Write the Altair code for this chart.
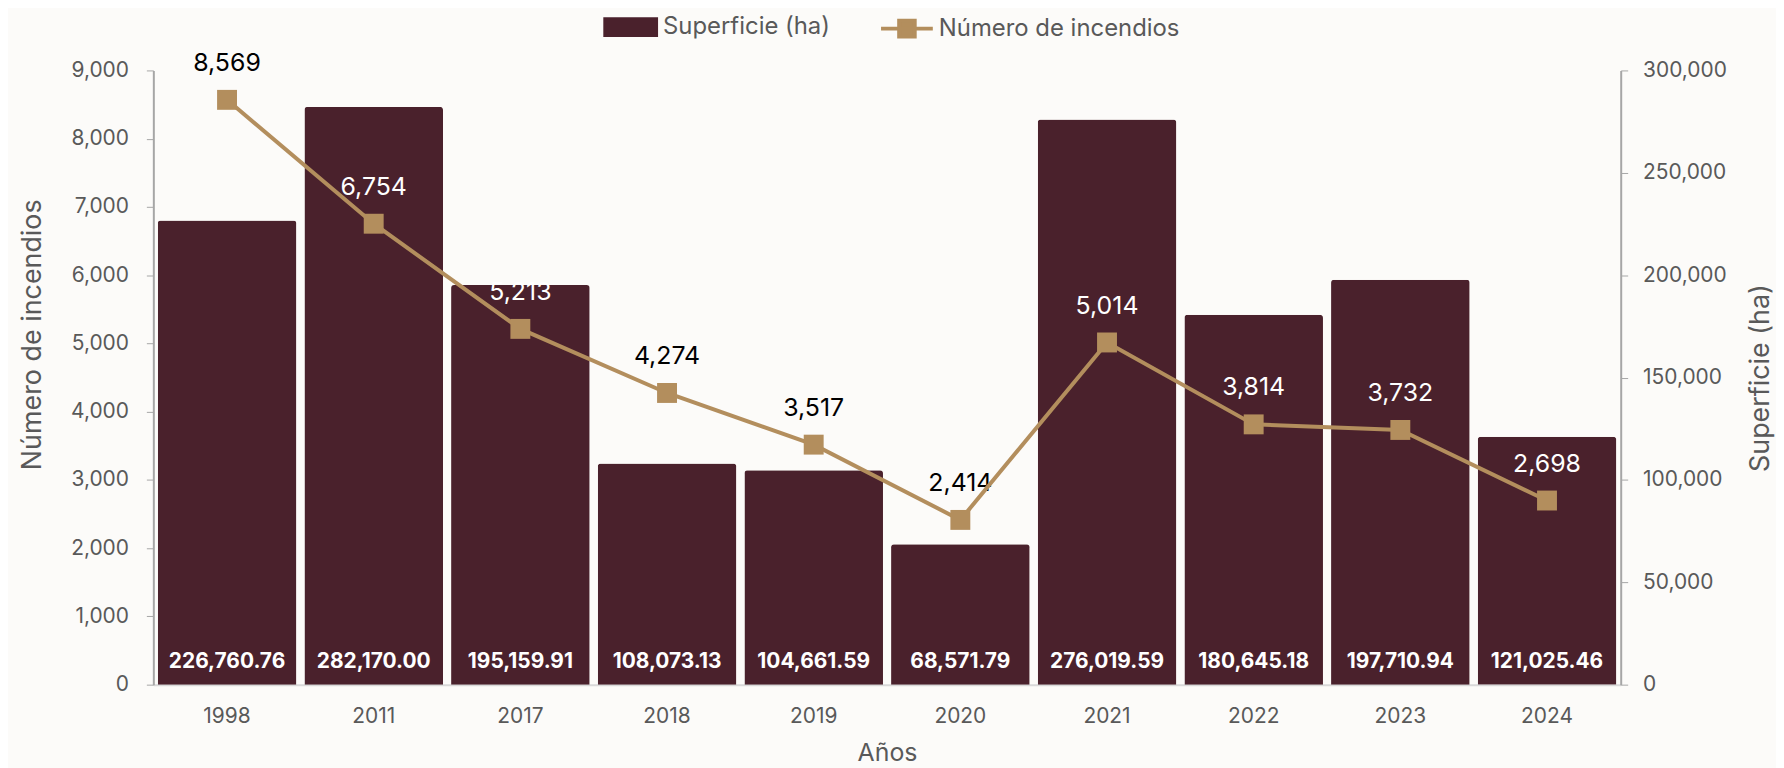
import altair as alt
import pandas as pd

years = ["1998", "2011", "2017", "2018", "2019", "2020", "2021", "2022", "2023", "2024"]
superficie = [226760.76, 282170.00, 195159.91, 108073.13, 104661.59, 68571.79,
              276019.59, 180645.18, 197710.94, 121025.46]
incendios = [8569, 6754, 5213, 4274, 3517, 2414, 5014, 3814, 3732, 2698]
# label colour: dark when the count label sits above the bar, white when inside it
label_on_bar = [False, True, True, False, False, False, True, True, True, True]

BAR = "#4A212C"
GOLD = "#B38E5D"
GRAY = "#595959"
AXIS = "#A6A6A6"
FONT = "Inter"

df = pd.DataFrame({
    "anio": years,
    "superficie": superficie,
    "incendios": incendios,
    "lblcolor": ["white" if b else "black" for b in label_on_bar],
})

x = alt.X("anio:N", sort=years,
          scale=alt.Scale(paddingInner=0.055, paddingOuter=0.03),
          axis=alt.Axis(title="Años", labelAngle=0, ticks=False, labelPadding=21,
                        labelFontSize=21, labelColor=GRAY, labelFont=FONT,
                        titleFontSize=25, titleColor=GRAY, titleFont=FONT,
                        titleFontWeight="normal", titleBaseline="middle", titleY=68,
                        domainColor="#D9D9D9", domainWidth=2))

bars = alt.Chart(df).mark_bar(cornerRadiusTopLeft=3, cornerRadiusTopRight=3).encode(
    x=x,
    y=alt.Y("superficie:Q",
            scale=alt.Scale(domain=[0, 300000], nice=False),
            axis=alt.Axis(orient="right", title="Superficie (ha)", values=list(range(0, 300001, 50000)),
                          format=",d", grid=False, labelFontSize=21, labelColor=GRAY, labelFont=FONT,
                          tickSize=7, tickColor=AXIS, domainColor=AXIS, domainWidth=2,
                          labelPadding=15, titleAngle=270, titleFontSize=27, titleColor=GRAY,
                          titleFont=FONT, titleFontWeight="normal", titleBaseline="middle",
                          titleX=140)),
    fill=alt.Fill("serie:N", scale=alt.Scale(domain=["Superficie (ha)"], range=[BAR]),
                  legend=alt.Legend(title=None, orient="none", legendX=452, legendY=-71,
                                    symbolType="M-1,-0.36H1V0.36H-1Z", symbolSize=3025,
                                    symbolStrokeWidth=0, labelFontSize=24, labelColor=GRAY,
                                    labelFont=FONT, labelOffset=5, labelLimit=400, padding=0)),
).transform_calculate(serie="'Superficie (ha)'")

bar_text = alt.Chart(df).mark_text(color="white", fontWeight="bold", fontSize=21,
                                   font=FONT, baseline="middle", dy=-23).encode(
    x=alt.X("anio:N", sort=years),
    y=alt.datum(0),
    text=alt.Text("superficie:Q", format=",.2f"),
)

bar_layer = alt.layer(bars, bar_text)

yline = alt.Y("incendios:Q",
              scale=alt.Scale(domain=[0, 9000], nice=False),
              axis=alt.Axis(orient="left", title="Número de incendios", values=list(range(0, 9001, 1000)),
                            format=",d", grid=False, labelFontSize=21, labelColor=GRAY, labelFont=FONT,
                            tickSize=7, tickColor=AXIS, domainColor=AXIS, domainWidth=2,
                            labelPadding=18, titleFontSize=27, titleColor=GRAY, titleFont=FONT,
                            titleFontWeight="normal", titleBaseline="middle",
                            titleX=-121, titleY=265))

line_labels = alt.Chart(df).mark_text(fontSize=25, font=FONT, baseline="middle", dy=-37).encode(
    x=alt.X("anio:N", sort=years),
    y=yline,
    text=alt.Text("incendios:Q", format=",d"),
    color=alt.Color("lblcolor:N", scale=None),
)

line = alt.Chart(df).mark_line(strokeWidth=4).encode(
    x=alt.X("anio:N", sort=years),
    y=yline,
    stroke=alt.Stroke("serie:N", scale=alt.Scale(domain=["Número de incendios"], range=[GOLD]),
                      legend=alt.Legend(title=None, orient="none", legendX=729, legendY=-70,
                                        symbolType="M-1,0H1M-0.3,-0.3H0.3V0.3H-0.3Z",
                                        symbolSize=2704, symbolStrokeWidth=4,
                                        symbolFillColor=GOLD, labelFontSize=24, labelColor=GRAY,
                                        labelFont=FONT, labelOffset=4, labelLimit=400, padding=0)),
).transform_calculate(serie="'Número de incendios'")

points = alt.Chart(df).mark_point(shape="square", filled=True, size=400, color=GOLD, opacity=1).encode(
    x=alt.X("anio:N", sort=years),
    y=yline,
)

line_layer = alt.layer(line_labels, line, points)

chart = alt.layer(bar_layer, line_layer).resolve_scale(
    y="independent"
).properties(
    width=1474, height=617,
    padding={"left": 146, "top": 61, "right": 156, "bottom": 82},
    autosize=alt.AutoSizeParams(type="none"),
    background="#FCFBF9",
).configure_view(stroke=None)

chart.save("out.html", embed_options={"renderer": "svg", "actions": False})
